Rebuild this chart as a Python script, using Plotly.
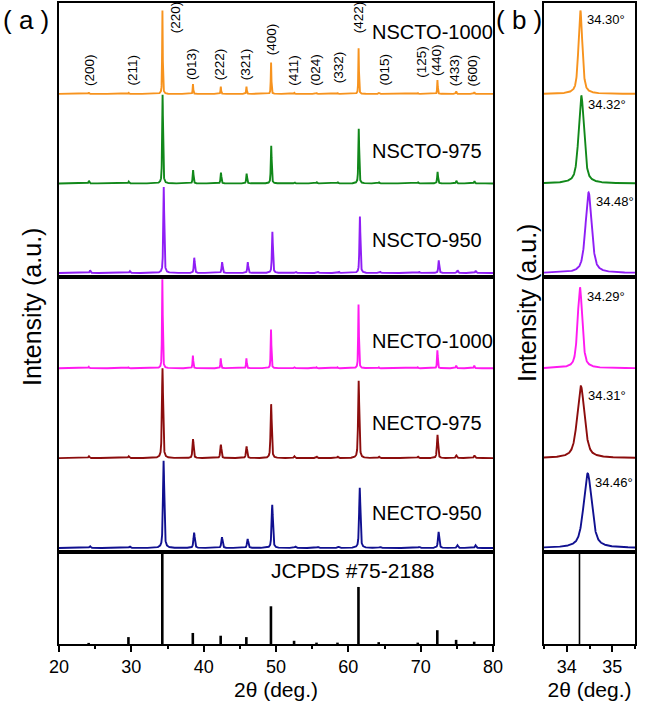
import numpy as np
import plotly.graph_objects as go
from plotly.subplots import make_subplots

# ---------------- data ----------------
hkl = ["(200)", "(211)", "(220)", "(013)", "(222)", "(321)", "(400)", "(411)",
       "(024)", "(332)", "(422)", "(015)", "(125)", "(440)", "(433)", "(600)"]
ref_pos = [24.1, 29.6, 34.28, 38.5, 42.35, 45.9, 49.3, 52.5,
           55.6, 58.5, 61.4, 64.2, 69.6, 72.3, 74.9, 77.4]
ref_int = [0.012, 0.075, 1.0, 0.12, 0.09, 0.075, 0.41, 0.035,
           0.015, 0.015, 0.62, 0.02, 0.015, 0.15, 0.045, 0.025]

samples = ["NSCTO-1000", "NSCTO-975", "NSCTO-950", "NECTO-1000", "NECTO-975", "NECTO-950"]
colors = ["#F7931E", "#11881A", "#8F1EF5", "#FF1AF0", "#8C0D0D", "#101090"]
peak220 = [34.30, 34.32, 34.48, 34.29, 34.31, 34.46]
fwhm = [0.10, 0.14, 0.16, 0.12, 0.19, 0.21]

int_nscto1000 = [0.015, 0.012, 0.93, 0.11, 0.08, 0.08, 0.35, 0.012, 0.010, 0.010, 0.51, 0.010, 0.010, 0.155, 0.030, 0.020]
int_nscto975 = [0.030, 0.020, 0.99, 0.15, 0.12, 0.11, 0.42, 0.015, 0.012, 0.012, 0.61, 0.012, 0.012, 0.130, 0.030, 0.025]
int_nscto950 = [0.030, 0.020, 0.96, 0.17, 0.12, 0.12, 0.46, 0.015, 0.012, 0.012, 0.63, 0.012, 0.012, 0.140, 0.030, 0.025]
int_necto1000 = [0.015, 0.010, 0.99, 0.14, 0.11, 0.11, 0.43, 0.015, 0.010, 0.010, 0.71, 0.010, 0.010, 0.200, 0.030, 0.030]
int_necto975 = [0.020, 0.020, 1.00, 0.21, 0.15, 0.13, 0.60, 0.020, 0.015, 0.015, 0.86, 0.015, 0.015, 0.260, 0.030, 0.030]
int_necto950 = [0.020, 0.015, 0.97, 0.17, 0.12, 0.10, 0.48, 0.015, 0.012, 0.012, 0.67, 0.012, 0.012, 0.180, 0.030, 0.030]
intensities = [int_nscto1000, int_nscto975, int_nscto950, int_necto1000, int_necto975, int_necto950]

# height of the (220) peak in the zoomed panel (b), per sample
zoom_height = [0.93, 0.98, 0.90, 0.90, 0.80, 0.83]

# label placement (layout, not data)
hkl_label_x = [24.3, 30.1, 36.2, 38.4, 42.3, 45.9, 49.5, 52.4, 55.5, 58.6, 61.5, 65.0, 70.0, 72.1, 74.8, 77.3]
hkl_label_y = [2.066, 2.066, 2.658, 2.133, 2.133, 2.133, 2.412, 2.066, 2.066, 2.099, 2.658, 2.066, 2.155, 2.177, 2.066, 2.066]
name_y = [2.69, 1.36, 0.37, 2.30, 1.39, 0.39]

FONT = "Liberation Sans, Arial, sans-serif"


def profile(x, centers, heights, w, eta=0.6):
    y = np.zeros_like(x)
    hw = w / 2.0
    for c, h in zip(centers, heights):
        u = (x - c) / hw
        y += h * (eta / (1 + u * u) + (1 - eta) * np.exp(-np.log(2) * u * u))
    return y


fig = make_subplots(rows=3, cols=2, row_heights=[274, 275, 92], column_widths=[434, 91],
                    horizontal_spacing=51 / 576, vertical_spacing=0)

xa = np.arange(20.0, 80.0001, 0.01)
xb = np.arange(33.5, 35.5001, 0.004)

for i, name in enumerate(samples):
    row = 1 if i < 3 else 2
    off = 2 - (i % 3)
    shift = peak220[i] - ref_pos[2]
    centers = [p + shift for p in ref_pos]
    ya = profile(xa, centers, intensities[i], fwhm[i])
    fig.add_trace(go.Scatter(x=xa, y=ya + off, mode="lines", line=dict(color=colors[i], width=1.9),
                             showlegend=False, hoverinfo="skip"), row=row, col=1)
    yb = profile(xb, centers, intensities[i], fwhm[i])
    yb = yb * zoom_height[i] / yb.max()
    fig.add_trace(go.Scatter(x=xb, y=yb + off, mode="lines", line=dict(color=colors[i], width=1.9),
                             showlegend=False, hoverinfo="skip"), row=row, col=2)
    fig.add_annotation(x=63.0, y=name_y[i], xref="x" if row == 1 else "x3",
                       yref="y" if row == 1 else "y3", text=name, showarrow=False,
                       xanchor="left", yanchor="middle", font=dict(family=FONT, size=20, color="black"))
    fig.add_annotation(x=peak220[i] + 0.11, y=off + zoom_height[i] - 0.1,
                       xref="x2" if row == 1 else "x4", yref="y2" if row == 1 else "y4",
                       text=f"{peak220[i]:.2f}°", showarrow=False, xanchor="left", yanchor="middle",
                       font=dict(family=FONT, size=13, color="black"))

# JCPDS reference sticks
sx, sy = [], []
for p, h in zip(ref_pos, ref_int):
    sx += [p, p, None]
    sy += [0, h, None]
fig.add_trace(go.Scatter(x=sx, y=sy, mode="lines", line=dict(color="black", width=2.6),
                         showlegend=False, hoverinfo="skip"), row=3, col=1)
bx, by = [], []
for p, h in zip(ref_pos, ref_int):
    if 33.5 <= p <= 35.5:
        bx += [p, p, None]
        by += [0, h, None]
fig.add_trace(go.Scatter(x=bx, y=by, mode="lines", line=dict(color="black", width=1.6),
                         showlegend=False, hoverinfo="skip"), row=3, col=2)
fig.add_annotation(x=49.0, y=0.80, xref="x5", yref="y5", text="JCPDS #75-2188", showarrow=False,
                   xanchor="left", yanchor="middle", font=dict(family=FONT, size=21, color="black"))

# hkl labels
for t, lx, ly in zip(hkl, hkl_label_x, hkl_label_y):
    fig.add_annotation(x=lx, y=ly, xref="x", yref="y", text=t, textangle=-90, showarrow=False,
                       xanchor="center", yanchor="bottom", font=dict(family=FONT, size=13.5, color="black"))

# axes styling
common = dict(showline=True, linecolor="black", linewidth=1.5, mirror=True, showgrid=False,
              zeroline=False, automargin=False)
for r in (1, 2, 3):
    for c in (1, 2):
        fig.update_yaxes(common, showticklabels=False, ticks="", row=r, col=c,
                         range=[0, 1] if r == 3 else [-0.045, 3.015])
        if c == 1:
            fig.update_xaxes(common, range=[20, 80], row=r, col=c)
        else:
            fig.update_xaxes(common, range=[33.5, 35.5], row=r, col=c)
        if r < 3:
            fig.update_xaxes(showticklabels=False, ticks="", row=r, col=c)

tickfont = dict(family=FONT, size=18, color="black")
titlefont = dict(family=FONT, size=21, color="black")
fig.update_xaxes(ticks="outside", ticklen=6, tickwidth=1.5, tickcolor="black", dtick=10, tick0=20,
                 minor=dict(ticks="outside", ticklen=3, tickwidth=1.5, tickcolor="black", dtick=5),
                 tickfont=tickfont, title=dict(text="2θ (deg.)", font=titlefont, standoff=6),
                 row=3, col=1)
fig.update_xaxes(ticks="outside", ticklen=6, tickwidth=1.5, tickcolor="black", dtick=1, tick0=34,
                 minor=dict(ticks="outside", ticklen=3, tickwidth=1.5, tickcolor="black", dtick=0.5),
                 tickfont=tickfont, title=dict(text="2θ (deg.)", font=titlefont, standoff=6),
                 row=3, col=2)

L, R, T, B, W, H = 59, 10, 3, 65, 645, 709
PW, PH = W - L - R, H - T - B


def px(xp):
    return (xp - L) / PW


def py(yp):
    return (H - B - yp) / PH


for xc, yc in ((32, 307), (527, 303)):
    fig.add_annotation(x=px(xc), y=py(yc), xref="paper", yref="paper", text="Intensity (a.u.)",
                       textangle=-90, showarrow=False, xanchor="center", yanchor="middle",
                       font=dict(family=FONT, size=25, color="black"))
for t, xc in (("( a )", 1), ("( b )", 494)):
    fig.add_annotation(x=px(xc), y=py(20), xref="paper", yref="paper", text=t, showarrow=False,
                       xanchor="left", yanchor="middle",
                       font=dict(family=FONT, size=26, color="black"))

fig.update_layout(width=W, height=H, margin=dict(l=L, r=R, t=T, b=B, autoexpand=False),
                  plot_bgcolor="white", paper_bgcolor="white", showlegend=False)
fig.write_html("out.html", config={"displayModeBar": False},
               post_script="document.body.style.margin='0px';")
